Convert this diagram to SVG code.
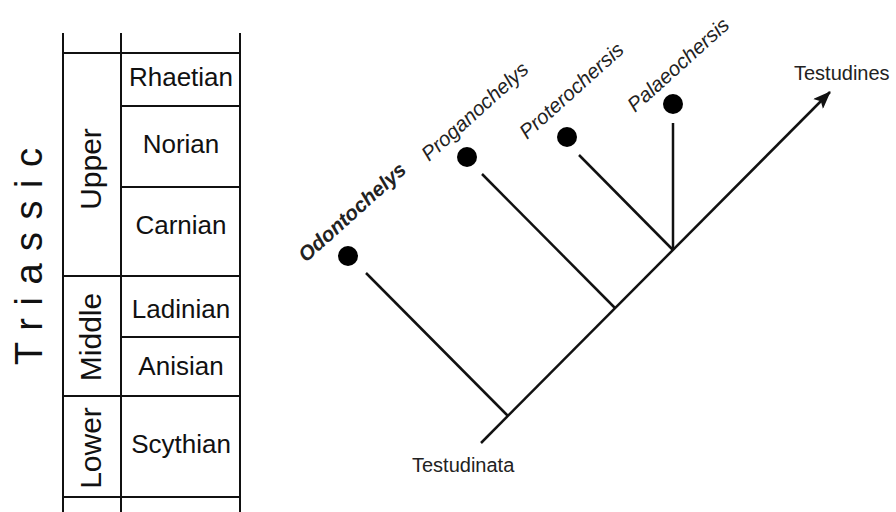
<svg xmlns="http://www.w3.org/2000/svg" width="896" height="512" viewBox="0 0 896 512">
<style>
  .grid { stroke:#111; stroke-width:2; fill:none; }
  .stage { font-family:"Liberation Sans", Arial, sans-serif; font-size:26px; fill:#111; text-anchor:middle; }
  .series { font-family:"Liberation Sans", Arial, sans-serif; font-size:30px; fill:#111; text-anchor:middle; }
  .period { font-family:"Liberation Sans", Arial, sans-serif; font-size:38px; fill:#111; letter-spacing:12.5px; }
  .taxon { font-family:"Liberation Sans", Arial, sans-serif; font-size:20.5px; font-style:italic; fill:#222; }
  .clade { font-family:"Liberation Sans", Arial, sans-serif; font-size:20px; fill:#222; }
  .branch { stroke:#111; stroke-width:2.5; fill:none; stroke-linecap:butt; }
  .dot { fill:#000; }
</style>
<defs>
  <marker id="arrow" markerWidth="18" markerHeight="14" refX="17" refY="7" orient="auto" markerUnits="userSpaceOnUse">
    <path d="M0,0 L18,7 L0,14 L4,7 Z" fill="#111"/>
  </marker>
</defs>
<rect width="896" height="512" fill="#fff"/>

<g id="timescale">
  <g id="grid-lines">
    <line class="grid" x1="63" y1="33" x2="63" y2="512"/>
    <line class="grid" x1="121" y1="33" x2="121" y2="512"/>
    <line class="grid" x1="240" y1="33" x2="240" y2="512"/>
    <line class="grid" x1="63" y1="53" x2="240" y2="53"/>
    <line class="grid" x1="121" y1="106" x2="240" y2="106"/>
    <line class="grid" x1="121" y1="187" x2="240" y2="187"/>
    <line class="grid" x1="63" y1="276" x2="240" y2="276"/>
    <line class="grid" x1="121" y1="337" x2="240" y2="337"/>
    <line class="grid" x1="63" y1="396" x2="240" y2="396"/>
    <line class="grid" x1="63" y1="497" x2="240" y2="497"/>
  </g>
  <g id="period-triassic"><text class="period" transform="translate(42,365) rotate(-90)">Triassic</text></g>
  <g id="series-upper"><text class="series" transform="translate(101,169) rotate(-90)">Upper</text></g>
  <g id="series-middle"><text class="series" transform="translate(101,337) rotate(-90)">Middle</text></g>
  <g id="series-lower"><text class="series" transform="translate(101,448) rotate(-90)">Lower</text></g>
  <g id="stage-rhaetian"><text class="stage" x="181" y="86">Rhaetian</text></g>
  <g id="stage-norian"><text class="stage" x="181" y="153">Norian</text></g>
  <g id="stage-carnian"><text class="stage" x="181" y="234">Carnian</text></g>
  <g id="stage-ladinian"><text class="stage" x="181" y="318">Ladinian</text></g>
  <g id="stage-anisian"><text class="stage" x="181" y="375">Anisian</text></g>
  <g id="stage-scythian"><text class="stage" x="181" y="453">Scythian</text></g>
</g>

<g id="connectors">
  <line class="branch" x1="481" y1="443" x2="830" y2="92" marker-end="url(#arrow)"/>
  <line class="branch" x1="366" y1="273" x2="508" y2="416"/>
  <line class="branch" x1="482" y1="174" x2="615" y2="308"/>
  <line class="branch" x1="579" y1="155" x2="673" y2="250"/>
  <line class="branch" x1="673" y1="123" x2="673" y2="250"/>
</g>

<g id="node-odontochelys">
  <circle class="dot" cx="348" cy="256" r="10"/>
  <text class="taxon" font-weight="bold" fill="#111" transform="translate(306,263) rotate(-42)">Odontochelys</text>
</g>
<g id="node-proganochelys">
  <circle class="dot" cx="467" cy="157" r="10"/>
  <text class="taxon" transform="translate(429,162) rotate(-42)">Proganochelys</text>
</g>
<g id="node-proterochersis">
  <circle class="dot" cx="567" cy="137" r="10"/>
  <text class="taxon" transform="translate(527,140) rotate(-42)">Proterochersis</text>
</g>
<g id="node-palaeochersis">
  <circle class="dot" cx="673" cy="104" r="10"/>
  <text class="taxon" transform="translate(635,113) rotate(-42)">Palaeochersis</text>
</g>
<g id="node-testudines">
  <text class="clade" x="794" y="80">Testudines</text>
</g>
<g id="node-testudinata">
  <text class="clade" x="412" y="472" font-size="20.5">Testudinata</text>
</g>
</svg>
